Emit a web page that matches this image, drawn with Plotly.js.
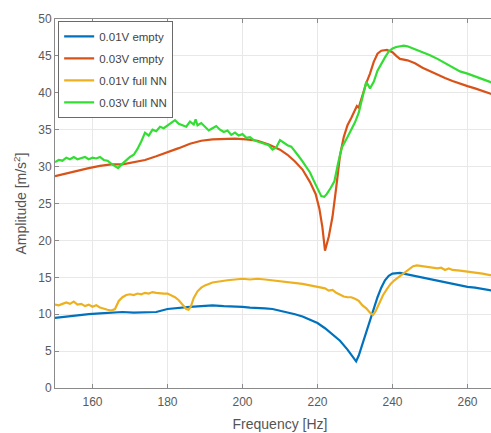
<!DOCTYPE html>
<html>
<head>
<meta charset="utf-8">
<script src="https://cdn.plot.ly/plotly-3.0.1.min.js"></script>
<style>
  html, body { margin: 0; padding: 0; background: #fff; overflow: hidden; }
  #chart { width: 520px; height: 433px; }
</style>
</head>
<body>
<div id="chart"></div>
<script>
// Frequency response of the plate, two drive levels, empty vs. full NN

const freqEmpty03 = [150,153,156,159,162,165,168,171,174,177,180,183,186,189,192,195,198,201,204,207,210,212,214,216,218,219.5,220.5,221.3,222,223,224,225,226,227,228,229,230,230.5,231,232,233,234,235,236,237,238.5,240,241,242,244,246,248,250,252,254,256,258,260,262,264,266,268,270];
const ampEmpty03 = [28.7,29.1,29.5,29.8,30.1,30.3,30.3,30.6,30.9,31.4,31.9,32.5,33.1,33.5,33.7,33.8,33.8,33.7,33.5,33.0,32.3,31.6,30.7,29.6,27.9,26.3,24.3,21.8,18.6,20.5,23.2,27.2,31.5,34.0,35.6,36.6,37.6,38.2,38.0,39.8,41.3,42.6,44.2,45.3,45.7,45.8,45.5,45.0,44.6,44.4,44.0,43.4,42.9,42.5,42.0,41.6,41.2,40.9,40.6,40.2,39.9,39.6,39.3];

const freqFull03 = [150,151,152,153,154,155,156,157,158,159,160,161,162,163,164,165,166,166.8,168,169,170,171,172,173,174,175,176,177,178,179,180,181,182,183,184,185,186,187,187.5,188,189,190,191,192,193,194,195,196,197,198,199,200,201,202,203,204,205,206,207,208,209,210,211,212,213,214,215,216,217,218,219,220,221,221.8,222.5,223.5,224.5,225.5,226.5,228,229,230,231,232,233,234,235,236,237,238,239,240,241,242,243,244,245,246,247,248,249,250,252,254,256,258,260,262,264,266,268,270];
const ampFull03 = [30.6,30.9,30.8,31.2,31.0,31.3,31.0,31.1,31.3,31.0,31.2,31.1,31.3,30.9,30.8,30.4,30.0,29.8,30.4,30.9,31.3,31.6,32.4,33.4,34.6,34.2,35.0,34.8,35.4,35.2,35.6,35.9,36.3,35.8,35.6,35.4,36.1,35.7,36.4,35.6,35.9,35.4,34.9,35.2,35.5,35.0,34.7,34.9,34.3,34.6,34.2,34.4,33.9,34.0,33.6,33.4,33.2,33.0,32.9,32.3,32.6,33.6,33.2,32.9,32.7,32.1,31.4,30.7,30.0,29.2,28.1,27.0,26.0,25.9,26.3,27.1,28.0,30.5,32.6,34.0,35.0,36.0,37.3,39.5,41.5,40.6,41.5,43.0,44.0,44.8,45.6,46.0,46.2,46.3,46.4,46.3,46.1,45.9,45.8,45.6,45.3,45.1,44.6,44.0,43.5,42.9,42.6,42.2,41.8,41.4,41.1,40.8];

const freqEmpty01 = [150,153,156,159,162,165,168,171,174,177,180,183,186,189,192,195,198,200,202,204,206,208,210,212,214,216,218,220,222,224,226,228,229.5,230.3,231,232,233,234,235,236,237,238,239,240,242,244,246,248,250,252,254,256,258,260,262,264,266,268,270];
const ampEmpty01 = [9.5,9.7,9.8,10.0,10.1,10.2,10.3,10.2,10.2,10.3,10.7,10.9,11.0,11.1,11.2,11.1,11.1,11.0,10.9,10.9,10.8,10.7,10.5,10.3,10.0,9.7,9.3,8.8,8.1,7.3,6.4,5.2,4.1,3.6,4.4,6.0,7.6,9.2,10.8,12.3,13.6,14.6,15.2,15.5,15.6,15.4,15.1,14.9,14.7,14.5,14.3,14.1,13.9,13.7,13.6,13.4,13.2,13.0,12.9];

const freqFull01 = [150,151,152,153,154,155,156,157,158,159,160,161,162,163,164,165,166,167,168,169,170,171,172,173,174,175,176,177,178,179,180,181,182,183,184,185,185.6,186.2,187,188,189,190,192,194,196,198,200,202,204,206,208,210,212,214,216,218,220,222,223,224,225,226,227,228,229,230,231,232,233,234,234.8,235.5,236.5,237.5,238.5,239.5,240.5,241.5,242.5,243.5,244.5,245.5,246.5,248,249,250,251,252,253,254,255,256,258,260,262,264,266,268,270];
const ampFull01 = [11.3,11.2,11.4,11.6,11.4,11.7,11.3,11.4,11.1,11.3,11.0,11.2,10.9,10.7,10.6,10.5,10.7,11.8,12.3,12.6,12.7,12.6,12.8,12.7,12.9,12.8,13.0,12.9,12.8,12.8,12.8,12.6,12.3,11.9,11.3,10.7,10.6,11.0,12.2,13.1,13.6,13.9,14.3,14.5,14.6,14.7,14.8,14.7,14.8,14.7,14.6,14.5,14.4,14.3,14.1,13.9,13.7,13.5,13.2,13.3,12.9,12.6,12.4,12.3,12.3,12.1,11.8,11.2,10.8,10.2,9.9,10.4,11.6,12.6,13.4,14.1,14.6,15.0,15.3,15.7,16.2,16.5,16.6,16.5,16.4,16.4,16.3,16.2,16.3,16.0,16.2,16.0,15.9,15.8,15.6,15.5,15.3,15.2,15.1];

const seriesNames = ['0.01V empty', '0.03V empty', '0.01V full NN', '0.03V full NN'];
const seriesColors = ['#0072BD', '#D95319', '#EDB120', '#33DD33'];
const xTickVals = [160, 180, 200, 220, 240, 260];
const yTickVals = [0, 5, 10, 15, 20, 25, 30, 35, 40, 45, 50];

const xs = [freqEmpty01, freqEmpty03, freqFull01, freqFull03];
const ys = [ampEmpty01, ampEmpty03, ampFull01, ampFull03];

const traces = seriesNames.map((name, i) => ({
  type: 'scatter',
  mode: 'lines',
  name: name,
  x: xs[i],
  y: ys[i],
  legendgroup: 'g' + i,
  line: { color: seriesColors[i], width: 2.2 }
}));

const fontFamily = 'Liberation Sans, Arial, sans-serif';

const axisCommon = {
  showline: true,
  linecolor: '#8a8a8a',
  linewidth: 1,
  mirror: 'ticks',
  ticks: 'inside',
  ticklen: 4,
  tickcolor: '#8a8a8a',
  showgrid: true,
  gridcolor: '#e8e8e8',
  gridwidth: 1,
  zeroline: false,
  tickfont: { family: fontFamily, size: 12, color: '#5a5a5a' }
};

const layout = {
  width: 520,
  height: 433,
  margin: { l: 55, r: 15, t: 19, b: 45 },
  paper_bgcolor: '#ffffff',
  plot_bgcolor: '#ffffff',
  showlegend: true,
  legend: {
    x: 0.007, y: 0.995, xanchor: 'left', yanchor: 'top',
    bgcolor: '#ffffff',
    bordercolor: '#6a6a6a',
    borderwidth: 1,
    tracegroupgap: 3,
    traceorder: 'grouped',
    font: { family: fontFamily, size: 11.5, color: '#444' }
  },
  xaxis: Object.assign({}, axisCommon, {
    range: [150, 270],
    tickvals: xTickVals,
    ticklabelstandoff: 3,
    title: { text: 'Frequency [Hz]', standoff: 10,
      font: { family: fontFamily, size: 14, color: '#555' } }
  }),
  yaxis: Object.assign({}, axisCommon, {
    range: [0, 50],
    tickvals: yTickVals,
    title: { text: 'Amplitude [m/s<sup>2</sup>]', standoff: 8,
      font: { family: fontFamily, size: 14, color: '#555' } }
  })
};

Plotly.newPlot('chart', traces, layout, { displayModeBar: false, staticPlot: true });
</script>
</body>
</html>
